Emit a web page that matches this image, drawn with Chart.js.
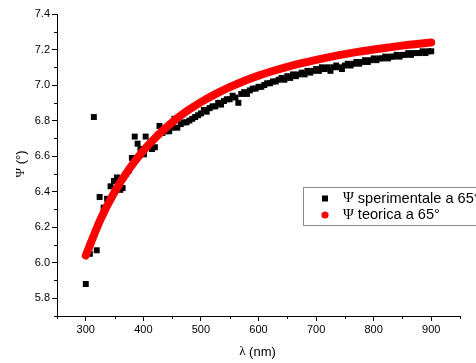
<!DOCTYPE html>
<html>
<head>
<meta charset="utf-8">
<script src="https://cdn.jsdelivr.net/npm/chart.js@4"></script>
<style>
  html, body { margin: 0; padding: 0; background: #fff; }
  canvas { display: block; }
</style>
</head>
<body>
<canvas id="psiChart" width="476" height="363"></canvas>
<script>
// dati sperimentali (lambda in nm, psi in gradi)
const lambdaExp = [
  300, 307, 314, 319, 324, 331, 337, 343, 349, 354, 360, 364, 370, 375, 380, 385, 390, 395,
  401, 404, 410, 415, 420, 425, 428, 433, 440, 445, 450, 454, 459, 465, 470, 475, 480, 485,
  490, 495, 500, 505, 510, 515, 520, 525, 530, 535, 540, 545, 550, 555, 560, 565, 570, 575,
  580, 585, 590, 595, 600, 605, 610, 615, 620, 625, 630, 635, 640, 645, 650, 655, 660, 665,
  670, 675, 680, 685, 690, 695, 700, 705, 710, 715, 720, 725, 730, 735, 740, 745, 750, 755,
  760, 765, 770, 775, 780, 785, 790, 795, 800, 805, 810, 815, 820, 825, 830, 835, 840, 845,
  850, 855, 860, 865, 870, 875, 880, 885, 890, 895, 900
];
const psiExp = [
  5.88, 6.05, 6.82, 6.07, 6.37, 6.31, 6.36, 6.43, 6.46, 6.48, 6.41, 6.42, 6.50, 6.52, 6.59, 6.71, 6.67, 6.64,
  6.61, 6.71, 6.66, 6.64, 6.65, 6.72, 6.77, 6.73, 6.74, 6.74, 6.76, 6.81, 6.76, 6.78, 6.79, 6.79, 6.80, 6.81,
  6.82, 6.83, 6.84, 6.86, 6.85, 6.87, 6.88, 6.88, 6.90, 6.89, 6.91, 6.92, 6.92, 6.94, 6.93, 6.90, 6.95, 6.96,
  6.95, 6.97, 6.98, 6.98, 6.99, 6.99, 7.00, 7.01, 7.01, 7.02, 7.02, 7.03, 7.04, 7.03, 7.05, 7.04, 7.06, 7.05,
  7.06, 7.07, 7.06, 7.08, 7.07, 7.08, 7.09, 7.08, 7.10, 7.09, 7.10, 7.08, 7.10, 7.11, 7.10, 7.09, 7.11, 7.12,
  7.11, 7.12, 7.13, 7.12, 7.13, 7.14, 7.13, 7.14, 7.15, 7.14, 7.15, 7.15, 7.16, 7.15, 7.16, 7.16, 7.17, 7.16,
  7.17, 7.17, 7.18, 7.17, 7.18, 7.18, 7.18, 7.19, 7.18, 7.19, 7.19
];

// curva teorica
const lambdaTeo = [
  300, 325, 350, 375, 400, 425, 450, 475, 500, 525, 550, 575, 600,
  625, 650, 675, 700, 725, 750, 775, 800, 825, 850, 875, 900
];
const psiTeo = [
  6.040, 6.240, 6.398, 6.526, 6.631, 6.717, 6.790, 6.852, 6.904, 6.949, 6.988, 7.023, 7.053,
  7.079, 7.102, 7.123, 7.142, 7.159, 7.174, 7.188, 7.200, 7.211, 7.222, 7.231, 7.240
];

const seriesLabels = ['Ψ sperimentale a 65°', 'Ψ teorica a 65°'];
const xTitle = 'λ (nm)';
const yTitle = 'Ψ (°)';

const SANS = '"Liberation Sans", Arial, sans-serif';
const SERIF = '"Liberation Serif", "Times New Roman", serif';

const isMajorX = v => Math.round(v) % 100 === 0;
const isMajorY = v => Math.round(v * 10) % 2 === 0;

// scrive un testo con la lettera greca iniziale in serif
const mixedText = (ctx, text, x, y, size, align) => {
  const first = text.slice(0, 1), rest = text.slice(1);
  ctx.font = size + 'px ' + SERIF;
  const w1 = ctx.measureText(first).width;
  ctx.font = size + 'px ' + SANS;
  const w2 = ctx.measureText(rest).width;
  const x0 = align === 'center' ? x - (w1 + w2) / 2 : x;
  ctx.textAlign = 'left';
  ctx.font = size + 'px ' + SERIF;
  ctx.fillText(first, x0, y);
  ctx.font = size + 'px ' + SANS;
  ctx.fillText(rest, x0 + w1, y);
};

// tacche secondarie, titoli degli assi e legenda interna
const extrasPlugin = {
  id: 'extras',
  afterDraw(chart) {
    const ctx = chart.ctx;
    const xs = chart.scales.x, ys = chart.scales.y;
    ctx.save();
    ctx.strokeStyle = '#000';
    ctx.lineWidth = 1;
    ctx.beginPath();
    xs.ticks.forEach(t => {
      if (isMajorX(t.value)) return;
      const px = Math.round(xs.getPixelForValue(t.value)) + 0.5;
      ctx.moveTo(px, xs.top);
      ctx.lineTo(px, xs.top + 3);
    });
    ys.ticks.forEach(t => {
      if (isMajorY(t.value)) return;
      const py = Math.round(ys.getPixelForValue(t.value)) + 0.5;
      ctx.moveTo(ys.right, py);
      ctx.lineTo(ys.right - 3, py);
    });
    ctx.stroke();

    // titoli
    ctx.fillStyle = '#000';
    ctx.textBaseline = 'middle';
    mixedText(ctx, xTitle, (xs.left + xs.right) / 2 - 1, 352, 13, 'center');
    ctx.save();
    ctx.translate(21, (ys.top + ys.bottom) / 2 - 1);
    ctx.rotate(-Math.PI / 2);
    mixedText(ctx, yTitle, 0, 0, 13, 'center');
    ctx.restore();

    // legenda
    const bx = 303.5, by = 187.5, bw = 220, bh = 38;
    ctx.fillStyle = '#fff';
    ctx.fillRect(bx, by, bw, bh);
    ctx.strokeStyle = '#8a8a8a';
    ctx.strokeRect(bx, by, bw, bh);
    const rows = [by + 11, by + 27.5];
    ctx.fillStyle = '#000';
    ctx.fillRect(322, rows[0] - 3, 6, 6);
    ctx.fillStyle = '#ff0000';
    ctx.beginPath();
    ctx.arc(325, rows[1], 3.6, 0, Math.PI * 2);
    ctx.fill();
    ctx.fillStyle = '#000';
    seriesLabels.forEach((lbl, i) => mixedText(ctx, lbl, 343, rows[i], 14.6, 'left'));
    ctx.restore();
  }
};

const ctx = document.getElementById('psiChart').getContext('2d');
new Chart(ctx, {
  type: 'scatter',
  data: {
    datasets: [
      {
        label: seriesLabels[0],
        data: lambdaExp.map((x, i) => ({ x, y: psiExp[i] })),
        pointStyle: 'rect',
        pointRadius: 4.2,
        backgroundColor: '#000',
        borderColor: '#000',
        borderWidth: 0,
        order: 2
      },
      {
        label: seriesLabels[1],
        data: lambdaTeo.map((x, i) => ({ x, y: psiTeo[i] })),
        showLine: true,
        pointRadius: 0,
        borderColor: '#ff0000',
        borderWidth: 8,
        borderCapStyle: 'round',
        cubicInterpolationMode: 'monotone',
        order: 1
      }
    ]
  },
  options: {
    responsive: false,
    animation: false,
    layout: { padding: { top: 14, right: 16, left: 0, bottom: 0 } },
    plugins: {
      legend: { display: false },
      tooltip: { enabled: false }
    },
    scales: {
      x: {
        type: 'linear',
        min: 250,
        max: 950,
        afterFit: s => { s.height = 47; },
        border: { display: true, color: '#000', width: 1 },
        grid: {
          drawOnChartArea: false,
          tickLength: 5,
          tickColor: c => (c.tick && isMajorX(c.tick.value)) ? '#000' : 'rgba(0,0,0,0)'
        },
        ticks: {
          stepSize: 50,
          autoSkip: false,
          maxRotation: 0,
          padding: 2,
          color: '#000',
          font: { family: SANS, size: 11 },
          callback: v => isMajorX(v) ? String(Math.round(v)) : ''
        }
      },
      y: {
        type: 'linear',
        min: 5.7,
        max: 7.4,
        afterFit: s => { s.width = 57; },
        border: { display: true, color: '#000', width: 1 },
        grid: {
          drawOnChartArea: false,
          tickLength: 5,
          tickColor: c => (c.tick && isMajorY(c.tick.value)) ? '#000' : 'rgba(0,0,0,0)'
        },
        ticks: {
          stepSize: 0.1,
          autoSkip: false,
          padding: 2,
          color: '#000',
          font: { family: SANS, size: 11 },
          callback: v => isMajorY(v) ? v.toFixed(1) : ''
        }
      }
    }
  },
  plugins: [extrasPlugin]
});
</script>
</body>
</html>
